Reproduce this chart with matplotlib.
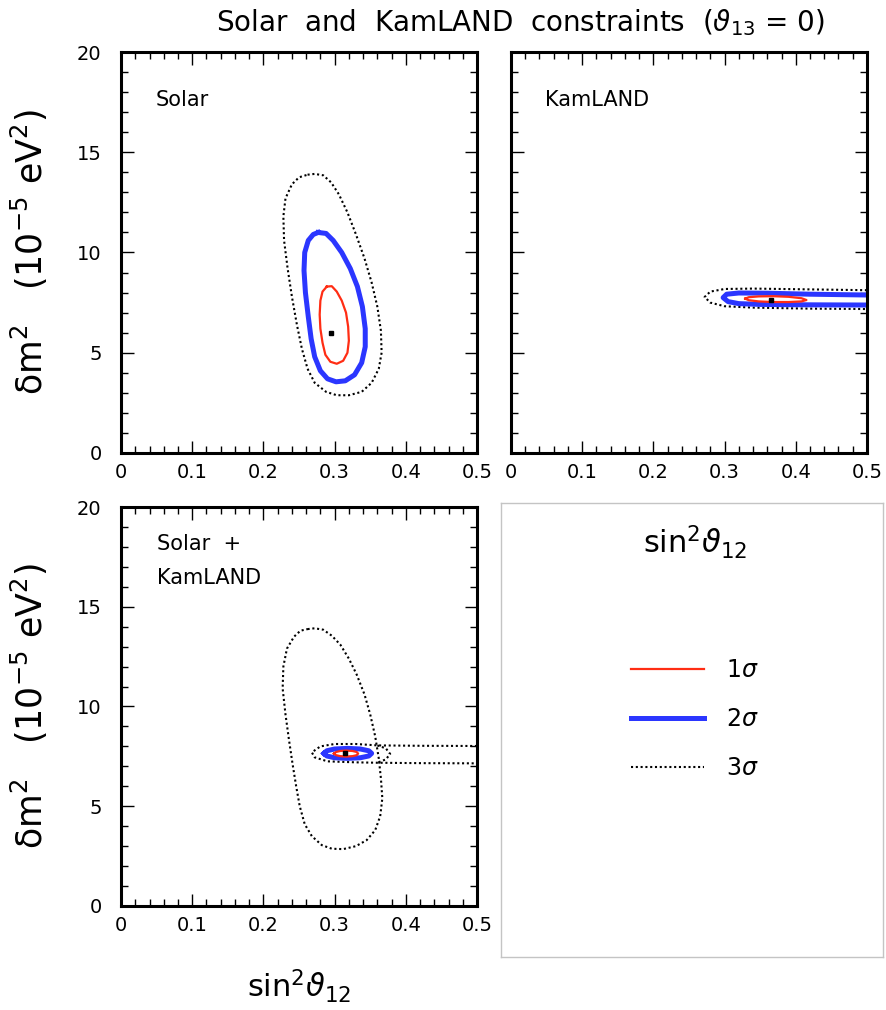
"""Solar and KamLAND constraints on (sin^2 theta12, delta m^2), theta13 = 0.

Three contour panels (Solar, KamLAND, Solar + KamLAND) plus a legend box.
Contours were traced by hand from the published figure.
"""

import matplotlib

matplotlib.use("Agg")
import matplotlib.pyplot as plt
from matplotlib.lines import Line2D
from matplotlib.ticker import MultipleLocator

# ---- data (x = sin^2 theta12, y = delta m^2 in 1e-5 eV^2) ----
X_TICKS = [0, 0.1, 0.2, 0.3, 0.4, 0.5]
X_TICK_LABELS = ["0", "0.1", "0.2", "0.3", "0.4", "0.5"]
Y_TICKS = [0, 5, 10, 15, 20]
Y_TICK_LABELS = ["0", "5", "10", "15", "20"]
SIGMA_LABELS = [r"1$\sigma$", r"2$\sigma$", r"3$\sigma$"]

# Solar only
solar_1s_x = [0.289, 0.296, 0.303, 0.310, 0.316, 0.319, 0.320, 0.318, 0.312, 0.303, 0.294,
              0.287, 0.283, 0.280, 0.279, 0.280, 0.283, 0.289]
solar_1s_y = [8.3, 8.32, 8.05, 7.6, 7.0, 6.3, 5.6, 5.0, 4.6, 4.45, 4.55,
              4.9, 5.5, 6.2, 6.9, 7.6, 8.05, 8.3]
solar_2s_x = [0.277, 0.288, 0.298, 0.310, 0.322, 0.332, 0.339, 0.343, 0.343, 0.338, 0.328,
              0.315, 0.302, 0.290, 0.280, 0.272, 0.267, 0.263, 0.259, 0.257, 0.258, 0.263,
              0.270, 0.277]
solar_2s_y = [11.0, 10.95, 10.6, 10.0, 9.2, 8.3, 7.3, 6.2, 5.3, 4.5, 3.9,
              3.6, 3.55, 3.7, 4.1, 4.8, 5.7, 6.8, 8.0, 9.1, 10.0, 10.6,
              10.9, 11.0]
solar_3s_x = [0.262, 0.272, 0.284, 0.295, 0.306, 0.318, 0.330, 0.342, 0.352, 0.360, 0.365,
              0.366, 0.362, 0.352, 0.338, 0.320, 0.303, 0.288, 0.272, 0.262, 0.254, 0.247,
              0.240, 0.234, 0.229, 0.228, 0.231, 0.240, 0.250, 0.262]
solar_3s_y = [13.88, 13.92, 13.85, 13.5, 12.9, 12.0, 10.9, 9.7, 8.5, 7.3, 6.1,
              5.0, 4.2, 3.5, 3.05, 2.88, 2.88, 3.05, 3.5, 4.2, 5.2, 6.4,
              7.8, 9.2, 10.6, 11.8, 12.7, 13.4, 13.75, 13.88]
solar_best = (0.295, 6.0)

# KamLAND only (2 and 3 sigma regions stay open past sin^2 = 0.5)
kam_1s_x = [0.329, 0.334, 0.348, 0.368, 0.390, 0.408, 0.415, 0.408, 0.390, 0.368, 0.348, 0.334, 0.329]
kam_1s_y = [7.70, 7.77, 7.81, 7.82, 7.79, 7.72, 7.63, 7.56, 7.53, 7.53, 7.56, 7.62, 7.70]
kam_2s_x = [0.5, 0.42, 0.36, 0.32, 0.303, 0.298, 0.305, 0.32, 0.35, 0.42, 0.5]
kam_2s_y = [7.88, 7.92, 7.97, 7.98, 7.92, 7.75, 7.55, 7.45, 7.41, 7.39, 7.38]
kam_3s_x = [0.5, 0.42, 0.34, 0.30, 0.28, 0.272, 0.28, 0.30, 0.34, 0.42, 0.5]
kam_3s_y = [8.12, 8.16, 8.20, 8.18, 8.05, 7.78, 7.50, 7.32, 7.25, 7.20, 7.18]
kam_best = (0.365, 7.65)

# Solar + KamLAND
comb_1s_x = [0.299, 0.302, 0.308, 0.316, 0.325, 0.331, 0.333, 0.331, 0.325, 0.316, 0.308, 0.302, 0.299]
comb_1s_y = [7.64, 7.72, 7.77, 7.79, 7.77, 7.72, 7.64, 7.56, 7.51, 7.49, 7.51, 7.56, 7.64]
comb_2s_x = [0.285, 0.289, 0.300, 0.318, 0.336, 0.348, 0.352, 0.348, 0.336, 0.318, 0.300, 0.289, 0.285]
comb_2s_y = [7.65, 7.78, 7.87, 7.90, 7.87, 7.78, 7.65, 7.52, 7.43, 7.40, 7.43, 7.52, 7.65]
comb_3s_big_x = [0.262, 0.272, 0.284, 0.296, 0.308, 0.320, 0.331, 0.342, 0.350, 0.357, 0.362,
                 0.365, 0.367, 0.364, 0.357, 0.345, 0.330, 0.312, 0.296, 0.282, 0.268, 0.258,
                 0.251, 0.246, 0.241, 0.236, 0.231, 0.227, 0.228, 0.233, 0.243, 0.252, 0.262]
comb_3s_big_y = [13.88, 13.92, 13.85, 13.55, 13.1, 12.4, 11.6, 10.6, 9.6, 8.5, 7.4,
                 6.4, 5.4, 4.5, 3.8, 3.3, 3.0, 2.85, 2.87, 3.05, 3.5, 4.1,
                 5.0, 6.0, 7.1, 8.3, 9.6, 10.9, 12.0, 12.9, 13.5, 13.8, 13.88]
comb_3s_band_x = [0.5, 0.42, 0.36, 0.33, 0.30, 0.28, 0.268, 0.272, 0.29, 0.33, 0.36, 0.42, 0.5]
comb_3s_band_y = [8.02, 8.03, 8.05, 8.12, 8.12, 8.0, 7.7, 7.45, 7.25, 7.2, 7.18, 7.16, 7.15]
comb_3s_cap_x = [0.36, 0.372, 0.378, 0.372, 0.36]
comb_3s_cap_y = [8.05, 7.9, 7.62, 7.35, 7.18]
comb_best = (0.315, 7.65)

RED = "#ff2d14"
BLUE = "#2b36ff"
STYLE_1S = dict(color=RED, lw=1.6, solid_joinstyle="round")
STYLE_2S = dict(color=BLUE, lw=3.6, solid_joinstyle="round")
STYLE_3S = dict(color="black", lw=1.5, ls=(0, (1, 1.3)))
YLABEL = r"δm$^2$   (10$^{-5}$ eV$^2$)"
XLABEL = r"sin$^2\vartheta_{12}$"


def style_panel(ax, ytick_labels=True):
    ax.set_xlim(0, 0.5)
    ax.set_ylim(0, 20)
    ax.set_xticks(X_TICKS, X_TICK_LABELS)
    ax.set_yticks(Y_TICKS, Y_TICK_LABELS if ytick_labels else [])
    ax.xaxis.set_minor_locator(MultipleLocator(0.02))
    ax.yaxis.set_minor_locator(MultipleLocator(1))
    ax.tick_params(which="both", direction="in", top=True, right=True, width=1)
    ax.tick_params(which="major", length=9, labelsize=14)
    ax.tick_params(which="minor", length=5)
    ax.tick_params(axis="x", pad=7)
    ax.tick_params(axis="y", pad=14)
    for sp in ax.spines.values():
        sp.set_linewidth(2.2)


def ylabel(ax):
    ax.set_ylabel(YLABEL, fontsize=25)
    ax.yaxis.set_label_coords(-0.2, 0.5)


def main():
    fig = plt.figure(figsize=(8.86, 10.10), dpi=100)
    ax_sol = fig.add_axes([0.1366, 0.5515, 0.4018, 0.397])
    ax_kam = fig.add_axes([0.5767, 0.5515, 0.4018, 0.397])
    ax_comb = fig.add_axes([0.1366, 0.103, 0.4018, 0.395])
    ax_leg = fig.add_axes([0.5655, 0.0525, 0.431, 0.4495])

    # Solar
    ax_sol.plot(solar_3s_x, solar_3s_y, **STYLE_3S)
    ax_sol.plot(solar_2s_x, solar_2s_y, **STYLE_2S)
    ax_sol.plot(solar_1s_x, solar_1s_y, **STYLE_1S)
    ax_sol.plot(*solar_best, "ks", ms=3.5)
    ax_sol.text(0.048, 17.6, "Solar", fontsize=15, va="center")
    style_panel(ax_sol)
    ylabel(ax_sol)

    # KamLAND
    ax_kam.plot(kam_3s_x, kam_3s_y, **STYLE_3S)
    ax_kam.plot(kam_2s_x, kam_2s_y, **STYLE_2S)
    ax_kam.plot(kam_1s_x, kam_1s_y, **STYLE_1S)
    ax_kam.plot(*kam_best, "ks", ms=3.5)
    ax_kam.text(0.048, 17.6, "KamLAND", fontsize=15, va="center")
    style_panel(ax_kam, ytick_labels=False)

    # Solar + KamLAND
    ax_comb.plot(comb_3s_big_x, comb_3s_big_y, **STYLE_3S)
    ax_comb.plot(comb_3s_band_x, comb_3s_band_y, **STYLE_3S)
    ax_comb.plot(comb_3s_cap_x, comb_3s_cap_y, **STYLE_3S)
    ax_comb.plot(comb_2s_x, comb_2s_y, **STYLE_2S)
    ax_comb.plot(comb_1s_x, comb_1s_y, **STYLE_1S)
    ax_comb.plot(*comb_best, "ks", ms=3.5)
    ax_comb.text(0.05, 17.3, "Solar  +\nKamLAND", fontsize=15, va="center", linespacing=1.9)
    style_panel(ax_comb)
    ylabel(ax_comb)
    ax_comb.set_xlabel(XLABEL, fontsize=22)
    ax_comb.xaxis.set_label_coords(0.5, -0.155)

    # legend box
    ax_leg.set_xticks([])
    ax_leg.set_yticks([])
    for sp in ax_leg.spines.values():
        sp.set_color("#c4c4c4")
        sp.set_linewidth(1)
    fig.text(0.785, 0.4634, XLABEL, fontsize=22, ha="center", va="center")
    handles = [Line2D([], [], **STYLE_1S), Line2D([], [], **STYLE_2S),
               Line2D([], [], **STYLE_3S)]
    fig.legend(handles, SIGMA_LABELS, loc="center left", bbox_to_anchor=(0.712, 0.288),
               frameon=False, fontsize=17, handlelength=3.1, handletextpad=0.95,
               labelspacing=1.05, borderpad=0, borderaxespad=0)

    fig.text(0.587, 0.978, r"Solar  and  KamLAND  constraints  ($\vartheta_{13}$ = 0)",
             fontsize=20, ha="center", va="center")

    fig.savefig("out.png", dpi=100)


if __name__ == "__main__":
    main()
